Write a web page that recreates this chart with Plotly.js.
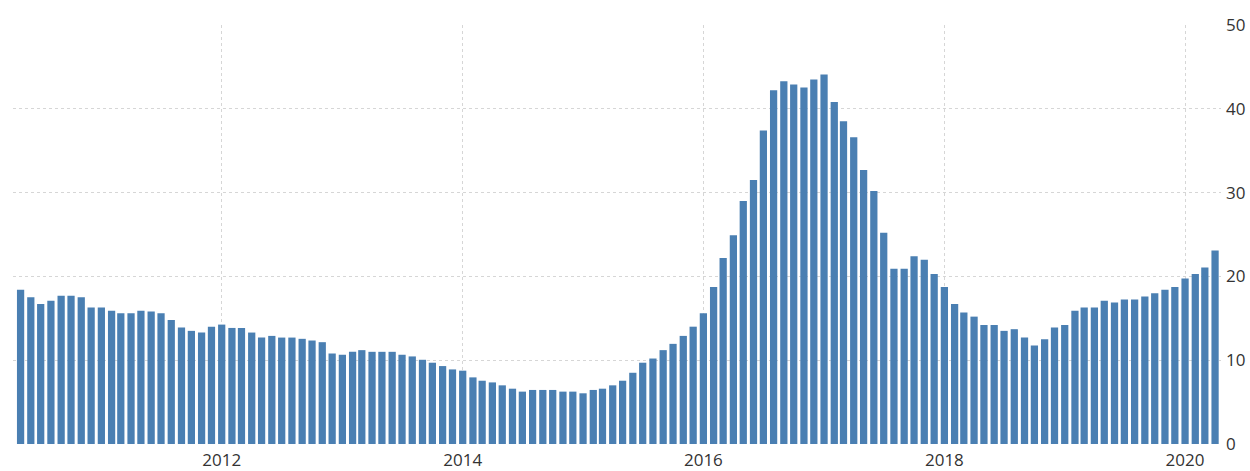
<!DOCTYPE html>
<html>
<head>
<meta charset="utf-8">
<script src="https://cdn.plot.ly/plotly-3.0.1.min.js"></script>
<style>
  html, body { margin: 0; padding: 0; background: #fff; }
  #chart { width: 1250px; height: 471px; }
</style>
</head>
<body>
<div id="chart"></div>
<script>
// Monthly observations, May 2010 .. April 2020
const startYear = 2010;
const startMonth = 5; // May
const values = [
  18.4, 17.5, 16.7, 17.1, 17.7, 17.7, 17.5, 16.3,
  16.3, 15.9, 15.6, 15.6, 15.9, 15.8, 15.6, 14.8, 13.9, 13.5, 13.3, 14.0,
  14.25, 13.85, 13.85, 13.3, 12.7, 12.9, 12.7, 12.7, 12.55, 12.35, 12.15, 10.8,
  10.65, 11.0, 11.2, 11.0, 11.0, 11.0, 10.65, 10.45, 10.05, 9.7, 9.3, 8.9,
  8.75, 7.95, 7.55, 7.35, 7.0, 6.6, 6.25, 6.45, 6.45, 6.45, 6.25, 6.25,
  6.05, 6.45, 6.6, 7.0, 7.55, 8.5, 9.7, 10.2, 11.2, 11.95, 12.9, 14.0,
  15.6, 18.75, 22.2, 24.9, 29.0, 31.5, 37.4, 42.2, 43.3, 42.9, 42.55, 43.5,
  44.1, 40.8, 38.5, 36.6, 32.7, 30.2, 25.2, 20.9, 20.9, 22.4, 22.0, 20.3,
  18.75, 16.7, 15.7, 15.2, 14.2, 14.2, 13.5, 13.7, 12.7, 11.75, 12.5, 13.9,
  14.2, 15.9, 16.3, 16.3, 17.1, 16.9, 17.25, 17.25, 17.6, 18.0, 18.4, 18.75,
  19.75, 20.3, 21.05, 23.1
];
const tickYears = ["2012-01-01", "2014-01-01", "2016-01-01", "2018-01-01", "2020-01-01"];
const tickLabels = ["2012", "2014", "2016", "2018", "2020"];
const yTicks = [0, 10, 20, 30, 40, 50];

// month dates for each bar
const months = values.map((v, i) => {
  const m0 = (startMonth - 1) + i;
  const y = startYear + Math.floor(m0 / 12);
  const m = (m0 % 12) + 1;
  return y + "-" + String(m).padStart(2, "0") + "-01";
});

const DAY = 86400000;

const trace = {
  type: "bar",
  x: months,
  y: values,
  width: 22 * DAY,
  marker: { color: "#4a7fb2", line: { width: 0 } },
  hoverinfo: "x+y"
};

const gridColor = "#d6d6d6";

const layout = {
  width: 1250,
  height: 471,
  margin: { l: 13, r: 29, t: 25, b: 27, pad: 0 },
  paper_bgcolor: "#ffffff",
  plot_bgcolor: "#ffffff",
  showlegend: false,
  font: { family: "Open Sans, Segoe UI, sans-serif", size: 17, color: "#333333" },
  xaxis: {
    type: "date",
    range: ["2010-04-08", "2020-04-19"],
    tickvals: tickYears,
    ticktext: tickLabels,
    showgrid: true,
    gridcolor: gridColor,
    griddash: "dot",
    gridwidth: 1,
    zeroline: false,
    showline: false,
    ticks: "",
    ticklabelstandoff: 4,
    tickfont: { size: 17, color: "#333333" }
  },
  yaxis: {
    side: "right",
    range: [0, 50],
    tickvals: yTicks,
    showgrid: true,
    gridcolor: gridColor,
    griddash: "dot",
    gridwidth: 1,
    zeroline: false,
    showline: false,
    ticks: "",
    ticklabelstandoff: 4,
    tickfont: { size: 17, color: "#333333" }
  },
  bargap: 0.25
};

Plotly.newPlot("chart", [trace], layout, { displayModeBar: false, staticPlot: true });
</script>
</body>
</html>
